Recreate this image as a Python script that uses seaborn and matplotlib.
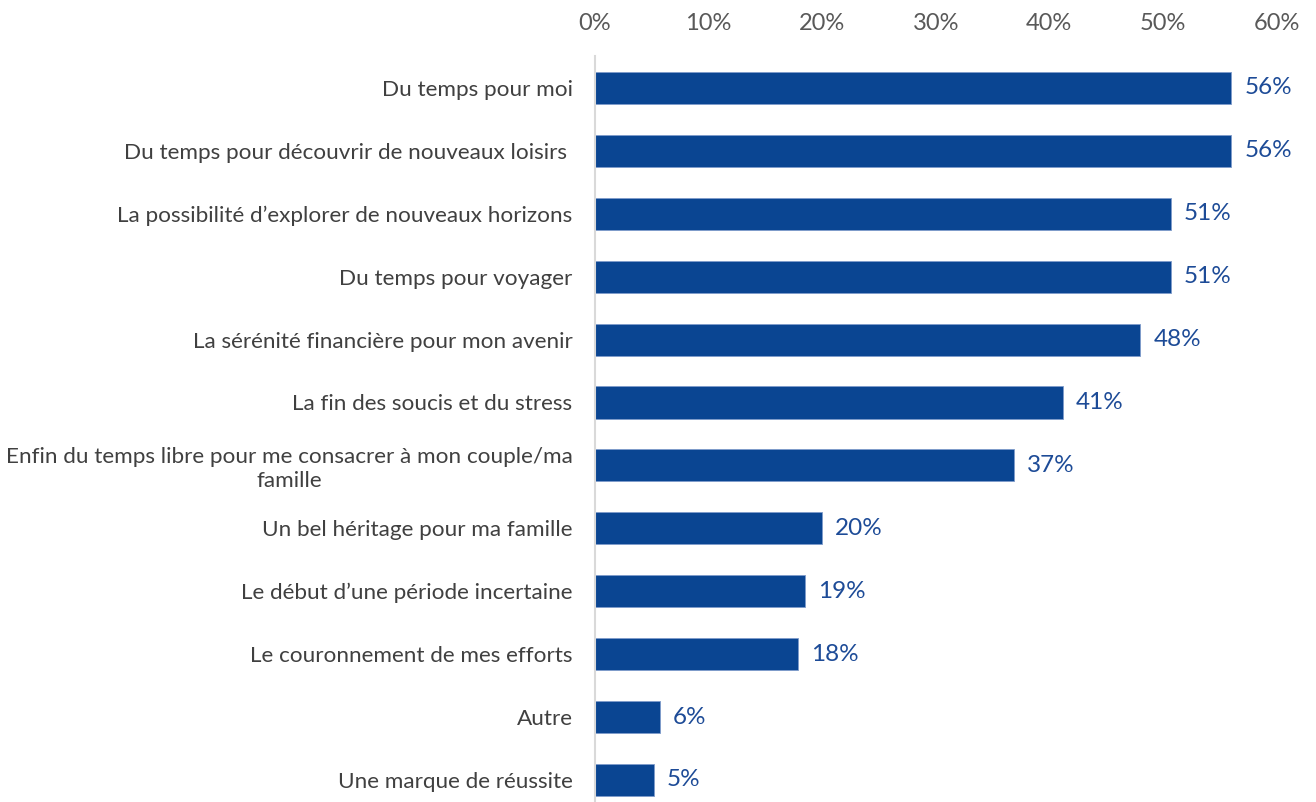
import matplotlib
matplotlib.use("Agg")
import matplotlib.pyplot as plt
import seaborn as sns
import pandas as pd
from matplotlib.ticker import FuncFormatter

categories = [
    "Du temps pour moi",
    "Du temps pour découvrir de nouveaux loisirs ",
    "La possibilité d’explorer de nouveaux horizons",
    "Du temps pour voyager",
    "La sérénité financière pour mon avenir",
    "La fin des soucis et du stress",
    "Enfin du temps libre pour me consacrer à mon couple/ma\nfamille",
    "Un bel héritage pour ma famille",
    "Le début d’une période incertaine",
    "Le couronnement de mes efforts",
    "Autre",
    "Une marque de réussite",
]
values = [56, 56, 51, 51, 48, 41, 37, 20, 19, 18, 6, 5]
bar_ends = [56.0, 56.0, 50.7, 50.7, 48.0, 41.2, 36.9, 20.0, 18.5, 17.9, 5.7, 5.2]
xticks = [0, 10, 20, 30, 40, 50, 60]

sns.set_style("white")
plt.rcParams['font.family'] = ['Lato', 'DejaVu Sans']

df = pd.DataFrame({"cat": categories, "val": bar_ends, "lab": values})

fig = plt.figure(figsize=(13.16, 8.02), dpi=100)
ax = fig.add_axes([0.452, 0.0, 0.518, 0.9296])

bar_color = "#0a4592"
sns.barplot(data=df, x="val", y="cat", orient="h", color=bar_color,
            width=0.51, saturation=1, ax=ax, edgecolor="#7f9ccb", linewidth=0.6)

ax.set_xlim(0, 60)
ax.set_ylim(11.35, -0.5)
ax.set_xticks(xticks)
ax.xaxis.set_major_formatter(FuncFormatter(lambda v, p: f"{int(v)}%"))
ax.xaxis.tick_top()
ax.tick_params(axis="x", length=0, pad=16.5, labelsize=17, labelcolor="#595959")
ax.tick_params(axis="y", length=0, pad=16, labelsize=16.2, labelcolor="#404040")
for t in ax.get_yticklabels():
    t.set_multialignment("center")
ax.set_xlabel("")
ax.set_ylabel("")

for s in ["top", "right", "bottom"]:
    ax.spines[s].set_visible(False)
ax.spines["left"].set_color("#d9d9d9")
ax.spines["left"].set_linewidth(1.5)

for i, (e, v) in enumerate(zip(bar_ends, values)):
    ax.annotate(f"{v}%", xy=(e, i), xytext=(9.5, 0), textcoords="offset points",
                ha="left", va="center", fontsize=17.5, color="#1d4b97")

fig.savefig("out.png", dpi=100)
